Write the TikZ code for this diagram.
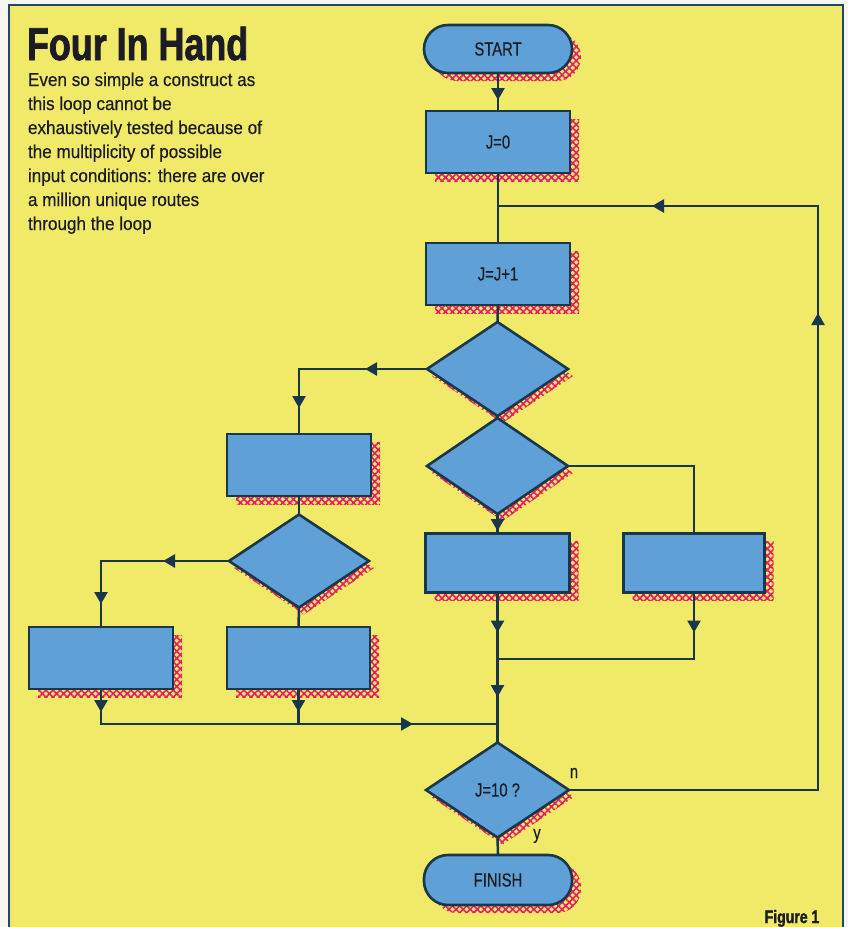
\documentclass[tikz,border=0pt]{standalone}
\usepackage{fontspec}
\setmainfont{Liberation Sans}
\newfontfamily\bodyfont{Liberation Sans}[FakeStretch=0.92,FakeBold=0.4]
\newfontfamily\labelfont{Liberation Sans}[FakeStretch=0.78,FakeBold=0.4]
\newfontfamily\titlefont{Liberation Sans}[FakeStretch=0.78,BoldFeatures={FakeBold=1.6}]
\usetikzlibrary{shapes.geometric,arrows.meta,decorations.markings,shadows,patterns.meta}
\definecolor{yellowbg}{RGB}{241,234,104}
\definecolor{outside}{RGB}{246,246,242}
\definecolor{framecol}{RGB}{35,70,105}
\definecolor{boxblue}{RGB}{95,160,215}
\definecolor{ink}{RGB}{25,55,75}
\definecolor{shadowred}{RGB}{228,30,100}
\definecolor{txt}{RGB}{28,28,36}
\begin{document}
\begin{tikzpicture}[x=1pt,y=-1pt,
  every node/.style={inner sep=0pt,outer sep=0pt},
  redshadow/.style 2 args={general shadow={shadow xshift=#1pt,shadow yshift=-#2pt,
      pattern={Hatch[angle=45,distance=5pt,line width=1.6pt]},pattern color=shadowred}},
  box/.style={rectangle,draw=ink,line width=2.6pt,fill=boxblue,
      minimum width=144pt,minimum height=62pt,text=txt,
      font=\labelfont\fontsize{19}{22}\selectfont,redshadow={9}{8}},
  term/.style={box,rounded corners=24pt,minimum width=148pt,minimum height=48pt},
  dia/.style={diamond,draw=ink,line width=2.6pt,fill=boxblue,
      minimum width=141pt,minimum height=94pt,text=txt,
      font=\labelfont\fontsize{19}{22}\selectfont,redshadow={5}{7}},
  conn/.style={color=ink,draw,line width=2.5pt},
  >={Triangle[length=12pt,width=13pt]},
  arrowat/.style={postaction={decorate,decoration={markings,
      mark=at position #1 with {\arrow{>}}}}},
  bodytext/.style={anchor=base west,text=txt,font=\bodyfont\fontsize{18.6}{24}\selectfont}
]
\useasboundingbox (0,0) rectangle (848,927);
% background
\fill[outside] (0,0) rectangle (848,927);
\fill[yellowbg] (9,5) rectangle (843,927);
\draw[framecol,line width=2pt] (9,927) -- (9,5) -- (843,5) -- (843,927);

% heading and text
\node[anchor=base west,text=txt,font=\titlefont\bfseries\fontsize{46}{50}\selectfont] (title) at (27,60) {Four In Hand};
\node[bodytext] (b1) at (28,86) {Even so simple a construct as};
\node[bodytext] (b2) at (28,110) {this loop cannot be};
\node[bodytext] (b3) at (28,134) {exhaustively tested because of};
\node[bodytext] (b4) at (28,158) {the multiplicity of possible};
\node[bodytext] (b5) at (28,182) {input conditions: there are over};
\node[bodytext] (b6) at (28,206) {a million unique routes};
\node[bodytext] (b7) at (28,230) {through the loop};
\node[anchor=base,text=txt,font=\titlefont\bfseries\fontsize{18}{20}\selectfont] (fig) at (792,923) {Figure 1};

% nodes
\node[term] (start) at (498,49) {START};
\node[box] (j0) at (498,142) {J=0};
\node[box] (j1) at (498,274) {J=J+1};
\node[dia] (d1) at (497.5,369) {};
\node[dia,minimum height=96pt] (d2) at (497.5,466) {};
\node[box] (l1) at (299,465) {};
\node[dia,minimum height=93pt,minimum width=140pt] (d3) at (299,561) {};
\node[box,minimum height=59pt] (m) at (497.5,563) {};
\node[box,minimum height=59pt,minimum width=141pt] (r) at (694,563) {};
\node[box] (ll) at (101,658) {};
\node[box,minimum width=143pt] (lm) at (298.5,658) {};
\node[dia,minimum width=143pt,minimum height=95pt] (d10) at (497.5,790) {J=10 ?};
\node[term,minimum height=50pt] (fin) at (498,880) {FINISH};
\node[text=txt,font=\labelfont\fontsize{19}{22}\selectfont] (nlab) at (574,773) {n};
\node[text=txt,font=\labelfont\fontsize{19}{22}\selectfont] (ylab) at (537,836) {y};

% junction points
\coordinate (loopj) at (498,206);
\coordinate (loopc) at (818,206);
\coordinate (mj) at (497.5,659);
\coordinate (lj) at (497.5,724);

% connectors
\path[conn,arrowat=27pt] (start.south) -- (j0.north);
\path[conn] (j0.south) -- (j1.north);
\path[conn] (j1.south) -- (d1.north);
\path[conn,arrowat=62pt,arrowat=167pt] (d1.west) -| (l1.north);
\path[conn] (d1.south) -- (d2.north);
\path[conn] (d2.east) -| (r.north);
\path[conn,arrowat=17pt] (d2.south) -- (m.north);
\path[conn,arrowat=40pt] (m.south) -- (mj);
\path[conn,arrowat=40pt] (r.south) |- (mj);
\path[conn,arrowat=38pt] (mj) -- (d10.north);
\path[conn] (l1.south) -- (d3.north);
\path[conn,arrowat=66pt,arrowat=171pt] (d3.west) -| (ll.north);
\path[conn] (d3.south) -- (lm.north);
\path[conn,arrowat=23pt,arrowat=347pt] (ll.south) |- (lj);
\path[conn,arrowat=23pt] (lm.south) -- (lm.south |- lj);
\path[conn,arrowat=726pt,arrowat=999pt] (d10.east) -| (loopc) -- (loopj);
\path[conn] (d10.south) -- (fin.north);
\end{tikzpicture}
\end{document}
